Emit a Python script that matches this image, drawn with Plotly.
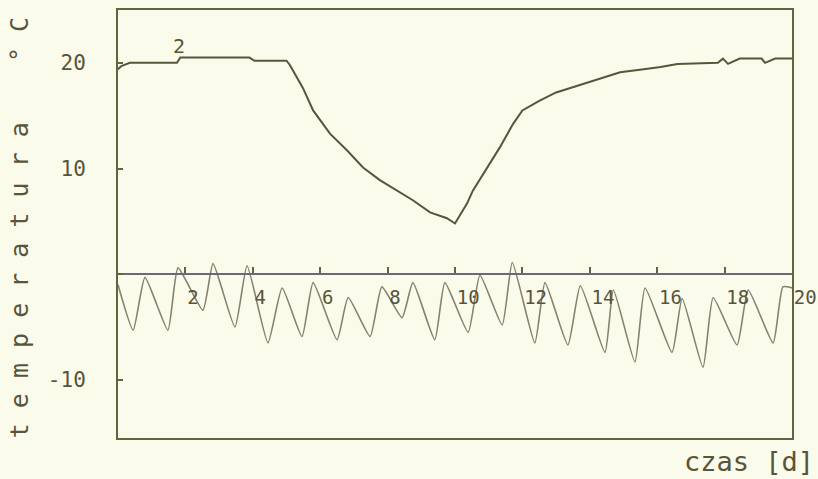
import plotly.graph_objects as go

# ---- data ----
# curve "2": indoor temperature [deg C] vs time [d]
days_inside = [0, 0.1, 0.35, 1.75, 1.85, 3.9, 4.05, 5.0, 5.1, 5.49, 5.79, 6.29, 6.8,
               7.27, 7.77, 8.28, 8.75, 9.26, 9.76, 10.0, 10.36, 10.53, 10.95, 11.33,
               11.72, 12.0, 12.5, 13.0, 13.4, 14.1, 14.9, 15.6, 16.1, 16.6, 17.8,
               17.95, 18.1, 18.45, 19.1, 19.2, 19.5, 20.0]
temp_inside = [19.4, 19.7, 20.0, 20.0, 20.5, 20.5, 20.2, 20.2, 19.8, 17.6, 15.5, 13.3, 11.7,
               10.1, 8.9, 7.9, 7.0, 5.85, 5.3, 4.8, 6.7, 7.9, 10.1, 12.0,
               14.2, 15.5, 16.4, 17.2, 17.6, 18.3, 19.1, 19.4, 19.6, 19.9, 20.0,
               20.4, 19.9, 20.4, 20.4, 20.0, 20.4, 20.4]

# outdoor temperature [deg C] vs time [d]
days_outside = [0, 0.45, 0.8, 1.48, 1.78, 2.52, 2.82, 3.47, 3.83, 4.45, 4.87, 5.46, 5.79,
                6.5, 6.83, 7.48, 7.83, 8.43, 8.75, 9.4, 9.7, 10.39, 10.74, 11.4, 11.7,
                12.37, 12.67, 13.35, 13.72, 14.45, 14.7, 15.34, 15.64, 16.44, 16.74,
                17.36, 17.66, 18.37, 18.7, 19.44, 19.73, 20.0]
temp_outside = [-1.0, -5.3, -0.3, -5.3, 0.6, -3.4, 1.0, -5.0, 0.8, -6.5, -1.3, -5.9, -0.8,
                -6.2, -2.2, -5.9, -1.2, -4.1, -0.8, -6.2, -0.8, -5.5, -0.1, -4.8, 1.1,
                -6.5, -0.8, -6.7, -1.1, -7.4, -1.5, -8.3, -1.3, -7.4, -2.3,
                -8.8, -2.2, -6.7, -1.5, -6.5, -1.2, -1.3]

x_tick_vals = [2, 4, 6, 8, 10, 12, 14, 16, 18, 20]
x_tick_text = ["2", "4", "6", "8", "10", "12", "14", "16", "18", "20"]
y_tick_vals = [-10, 0, 10, 20]
y_tick_text = ["-10", "", "10", "20"]
x_range = [0, 20]
y_range = [-15.5, 25]

curve_label = "2"
curve_label_pos = (1.8, 21.6)
y_title = "t e m p e r a t u r a    ° C"
x_title = "czas [d]"

# ---- style ----
BG = "#fbfbec"
INK = "#57553a"
FRAME = "#65623f"
ZERO = "#6d6877"
LIGHT = "#85836f"
MONO = "DejaVu Sans Mono"

fig = go.Figure()
fig.add_trace(go.Scatter(x=days_inside, y=temp_inside, mode="lines",
                         line=dict(color=INK, width=2), xaxis="x", yaxis="y",
                         showlegend=False, hoverinfo="x+y"))
fig.add_trace(go.Scatter(x=days_outside, y=temp_outside, mode="lines",
                         line=dict(color=LIGHT, width=1.6, shape="spline", smoothing=0.5),
                         xaxis="x2", yaxis="y", showlegend=False, hoverinfo="x+y"))

zero_pos = (0 - y_range[0]) / (y_range[1] - y_range[0])

fig.update_layout(
    width=818, height=479,
    margin=dict(l=118, r=26, t=10, b=41, autoexpand=False),
    paper_bgcolor=BG, plot_bgcolor=BG,
    showlegend=False,
    xaxis=dict(range=x_range, showline=True, mirror=True, linecolor=FRAME, linewidth=2,
               showgrid=False, zeroline=False, showticklabels=False, ticks="",
               automargin=False),
    xaxis2=dict(range=x_range, overlaying="x", anchor="free", position=zero_pos,
                side="bottom", showline=True, linecolor=ZERO, linewidth=2,
                showgrid=False, zeroline=False, tickmode="array",
                tickvals=x_tick_vals, ticktext=x_tick_text,
                ticks="inside", ticklen=6, tickwidth=1.5, tickcolor=FRAME,
                ticklabelposition="outside right", ticklabelstandoff=6,
                ticklabeloverflow="allow", automargin=False,
                tickfont=dict(family=MONO, size=19, color=INK)),
    yaxis=dict(range=y_range, showline=True, mirror=True, linecolor=FRAME, linewidth=2,
               showgrid=False, zeroline=False, tickmode="array",
               tickvals=y_tick_vals, ticktext=y_tick_text,
               ticks="inside", ticklen=5, tickwidth=1.5, tickcolor=FRAME,
               ticklabelstandoff=26, automargin=False,
               tickfont=dict(family=MONO, size=21, color=INK)),
    annotations=[
        dict(text=curve_label, x=curve_label_pos[0], y=curve_label_pos[1], xref="x", yref="y",
             showarrow=False, font=dict(family=MONO, size=20, color=INK)),
        dict(text=y_title, xref="paper", yref="paper", x=0, y=0.49, xshift=-99,
             xanchor="center", yanchor="middle", textangle=-90, showarrow=False,
             font=dict(family=MONO, size=25, color=INK)),
        dict(text=x_title, xref="paper", yref="paper", x=1, y=0, xshift=24, yshift=-41,
             xanchor="right", yanchor="bottom", showarrow=False,
             font=dict(family=MONO, size=27, color=INK)),
    ],
)

fig.write_html("out.html",
               config={"displayModeBar": False},
               post_script="document.body.style.margin='0';"
                           "document.body.style.background='" + BG + "';")
